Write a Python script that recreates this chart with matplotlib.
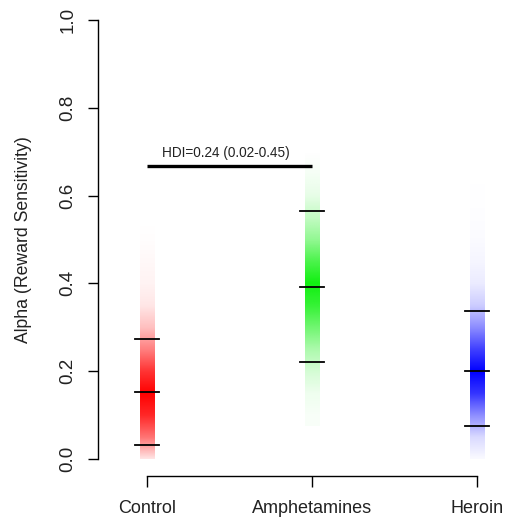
import numpy as np
import matplotlib.pyplot as plt
from matplotlib.colors import to_rgb

plt.rcParams['font.family'] = ['Liberation Sans', 'DejaVu Sans']

# Grupos e estatisticas (media e HDI 95%)
groups = ['Control', 'Amphetamines', 'Heroin']
colors = ['#ff0000', '#10f010', '#0000ff']
hdi_low = [0.032, 0.220, 0.076]
means = [0.152, 0.392, 0.200]
hdi_high = [0.273, 0.564, 0.336]

# Perfil de densidade (passo de 0.05 a partir de start)
dens_start = [0.00, 0.10, 0.00]
dens_step = 0.05
density = [
    [0.10, 0.55, 0.85, 1.00, 0.80, 0.50, 0.25, 0.10, 0.05, 0.03, 0.01, 0.0],
    [0.03, 0.07, 0.18, 0.35, 0.60, 0.85, 1.00, 0.75, 0.45, 0.25, 0.10, 0.04, 0.0],
    [0.02, 0.15, 0.45, 0.80, 1.00, 0.75, 0.45, 0.20, 0.08, 0.04, 0.02, 0.01, 0.005],
]

# Diferenca entre grupos
diff_text = 'HDI=0.24 (0.02-0.45)'
diff_pair = (0, 1)
diff_y = 0.667

fig = plt.figure(figsize=(5.08, 5.22), dpi=100)
ax = fig.add_axes([98 / 508, 63 / 522, 407 / 508, 439 / 522])

pos = np.arange(1, len(groups) + 1)
bar_w = 0.09
line_w = 0.14

for i, g in enumerate(groups):
    d = np.array(density[i])
    rgb = to_rgb(colors[i])
    img = np.zeros((len(d), 1, 4))
    img[:, 0, :3] = rgb
    img[:, 0, 3] = d
    y0 = dens_start[i] - dens_step / 2
    y1 = dens_start[i] + dens_step * (len(d) - 1) + dens_step / 2
    ax.imshow(img, extent=[pos[i] - bar_w / 2, pos[i] + bar_w / 2, y0, y1],
              origin='lower', aspect='auto', interpolation='bilinear', zorder=1)
    for v in (hdi_low[i], means[i], hdi_high[i]):
        ax.plot([pos[i] - line_w / 2, pos[i] + line_w / 2], [v, v],
                color='black', lw=1.3, zorder=3)

# barra da diferenca
a, b = diff_pair
ax.plot([pos[a], pos[b]], [diff_y, diff_y], color='black', lw=2.4, solid_capstyle='butt')
ax.text((pos[a] + pos[b]) / 2 - 0.02, diff_y + 0.013, diff_text, ha='center', va='bottom',
        fontsize=9.8, color='#222222')

ax.set_xlim(1 - 49 / 165, 3 + 28 / 165)
ax.set_ylim(0, 1)

# eixos estilo R
for s in ['top', 'right']:
    ax.spines[s].set_visible(False)
ax.spines['left'].set_bounds(0, 1)
ax.spines['bottom'].set_position(('outward', 12.5))
ax.spines['bottom'].set_bounds(1, 3)
ax.spines['left'].set_linewidth(1.0)
ax.spines['bottom'].set_linewidth(1.0)

ax.set_yticks([0.0, 0.2, 0.4, 0.6, 0.8, 1.0])
ax.set_yticklabels(['0.0', '0.2', '0.4', '0.6', '0.8', '1.0'], rotation=90, va='center')
ax.set_xticks(pos)
ax.set_xticklabels(groups)
ax.tick_params(axis='y', length=7.5, width=1.0, labelsize=13.5, pad=8, labelcolor='#222222')
ax.tick_params(axis='x', length=8, width=1.0, labelsize=13, pad=9, labelcolor='#222222')
ax.set_ylabel('Alpha (Reward Sensitivity)', fontsize=12.7, labelpad=20, color='#222222')

fig.savefig('out.png', dpi=100)
